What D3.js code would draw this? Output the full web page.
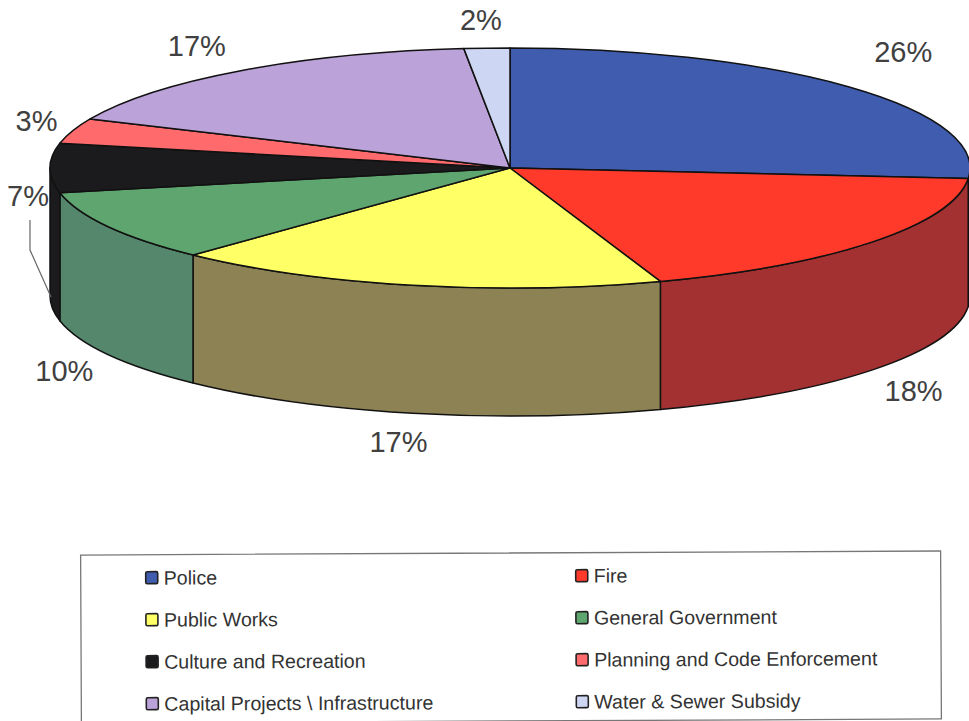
<!DOCTYPE html>
<html>
<head>
<meta charset="utf-8">
<script src="https://cdn.jsdelivr.net/npm/d3@7/dist/d3.min.js"></script>
<style>
  html, body { margin: 0; padding: 0; background: #fff; }
  svg { display: block; font-family: "Liberation Sans", Arial, sans-serif; }
</style>
</head>
<body>
<svg id="chart" width="969" height="721"></svg>
<script>
// Budget shares by department, clockwise from twelve o'clock.
// Labels show these shares rounded to whole percents.
const categories = ["Police", "Fire", "Public Works", "General Government",
  "Culture and Recreation", "Planning and Code Enforcement",
  "Capital Projects \\ Infrastructure", "Water & Sewer Subsidy"];
const shares = [26.4, 18.3, 17.4, 9.6, 6.6, 3.4, 16.7, 1.6];
const topColors = ["#3f5cae", "#ff3a2b", "#ffff66", "#5fa56f", "#1b1b1d", "#ff6a6c", "#bba2d8", "#cdd6f2"];
const wallColors = ["#2c3f7a", "#a43131", "#8d8254", "#54876b", "#1b1b1d", "#b04a4c", "#83719a", "#8f95aa"];
// Two-column legend, read across then down
const legendColumns = [0, 1, 0, 1, 0, 1, 0, 1];
const legendRows = [0, 0, 1, 1, 2, 2, 3, 3];
// Label offsets from the rim point at each slice's middle angle
const labelDx = [54, 41, -14, -44, -22, -36, -44, -6];
const labelDy = [-35, 21, 29, 17, 28, -10, -25, -28];

const cx = 510, cy = 168, rx = 460, ry = 120, depth = 128;
const svg = d3.select("#chart");

const pie = d3.pie().sort(null).value(d => d);
const arcs = pie(shares);

const rimX = a => cx + rx * Math.sin(a);
const rimY = a => cy - ry * Math.cos(a);

// Side walls: only the part of the rim facing the viewer is visible
const wallStart = Math.PI / 2, wallEnd = 3 * Math.PI / 2;
const walls = svg.append("g");
arcs.forEach((d, i) => {
  const a0 = Math.max(d.startAngle, wallStart), a1 = Math.min(d.endAngle, wallEnd);
  if (a1 <= a0) return;
  walls.append("path")
    .attr("d", `M${rimX(a0)},${rimY(a0)}` +
      `A${rx},${ry} 0 0 1 ${rimX(a1)},${rimY(a1)}` +
      `L${rimX(a1)},${rimY(a1) + depth}` +
      `A${rx},${ry} 0 0 0 ${rimX(a0)},${rimY(a0) + depth}Z`)
    .attr("fill", wallColors[i])
    .attr("stroke", "#111")
    .attr("stroke-width", 1.5)
    .attr("stroke-linejoin", "round");
});

// Top face: a circular pie flattened into an ellipse
const arc = d3.arc().innerRadius(0).outerRadius(rx);
svg.append("g")
  .attr("transform", `translate(${cx},${cy}) scale(1,${ry / rx})`)
  .selectAll("path")
  .data(arcs)
  .join("path")
  .attr("d", arc)
  .attr("fill", (d, i) => topColors[i])
  .attr("stroke", "#111")
  .attr("stroke-width", 1.5)
  .attr("stroke-linejoin", "round")
  .attr("vector-effect", "non-scaling-stroke");

// Percentage labels; those on the front half sit below the wall
const labelPoint = (d, i) => {
  const a = (d.startAngle + d.endAngle) / 2;
  const front = a > wallStart && a < wallEnd - 0.01;
  return [rimX(a) + labelDx[i], rimY(a) + (front ? depth : 0) + labelDy[i]];
};
svg.append("g")
  .selectAll("text")
  .data(arcs)
  .join("text")
  .attr("x", (d, i) => labelPoint(d, i)[0])
  .attr("y", (d, i) => labelPoint(d, i)[1])
  .attr("text-anchor", "middle")
  .attr("dominant-baseline", "central")
  .attr("font-size", 29)
  .attr("fill", "#404040")
  .text(d => d3.format(".0f")(d.data) + "%");

// Leader from the 7% label down to the foot of its wall
const cultureMid = (arcs[4].startAngle + arcs[4].endAngle) / 2;
const culturePoint = labelPoint(arcs[4], 4);
svg.append("path")
  .attr("d", d3.line()([
    [culturePoint[0] + 2, culturePoint[1] + 24],
    [culturePoint[0] + 2, culturePoint[1] + 54],
    [rimX(cultureMid) + 1, rimY(cultureMid) + depth + 1]
  ]))
  .attr("fill", "none")
  .attr("stroke", "#666")
  .attr("stroke-width", 1.2);

// Legend box, very slightly rotated like the rest of the page furniture
const legend = svg.append("g").attr("transform", "rotate(-0.27 511 636)");
legend.append("rect")
  .attr("x", 81).attr("y", 553).attr("width", 860).attr("height", 168)
  .attr("fill", "#fff").attr("stroke", "#777").attr("stroke-width", 1.3);

const legendX = d3.scaleOrdinal().domain([0, 1]).range([146, 576]);
const legendY = d3.scalePoint().domain([0, 1, 2, 3]).range([576, 702]);
const items = legend.selectAll("g")
  .data(categories)
  .join("g")
  .attr("transform", (d, i) => `translate(${legendX(legendColumns[i])},${legendY(legendRows[i])})`);
items.append("rect")
  .attr("x", 0).attr("y", -6).attr("width", 12).attr("height", 12).attr("rx", 1.5)
  .attr("fill", (d, i) => topColors[i])
  .attr("stroke", "#222").attr("stroke-width", 1.6);
items.append("text")
  .attr("x", 18).attr("y", 0)
  .attr("dominant-baseline", "central")
  .attr("font-size", 19.6)
  .attr("fill", "#333")
  .text(d => d);
</script>
</body>
</html>
